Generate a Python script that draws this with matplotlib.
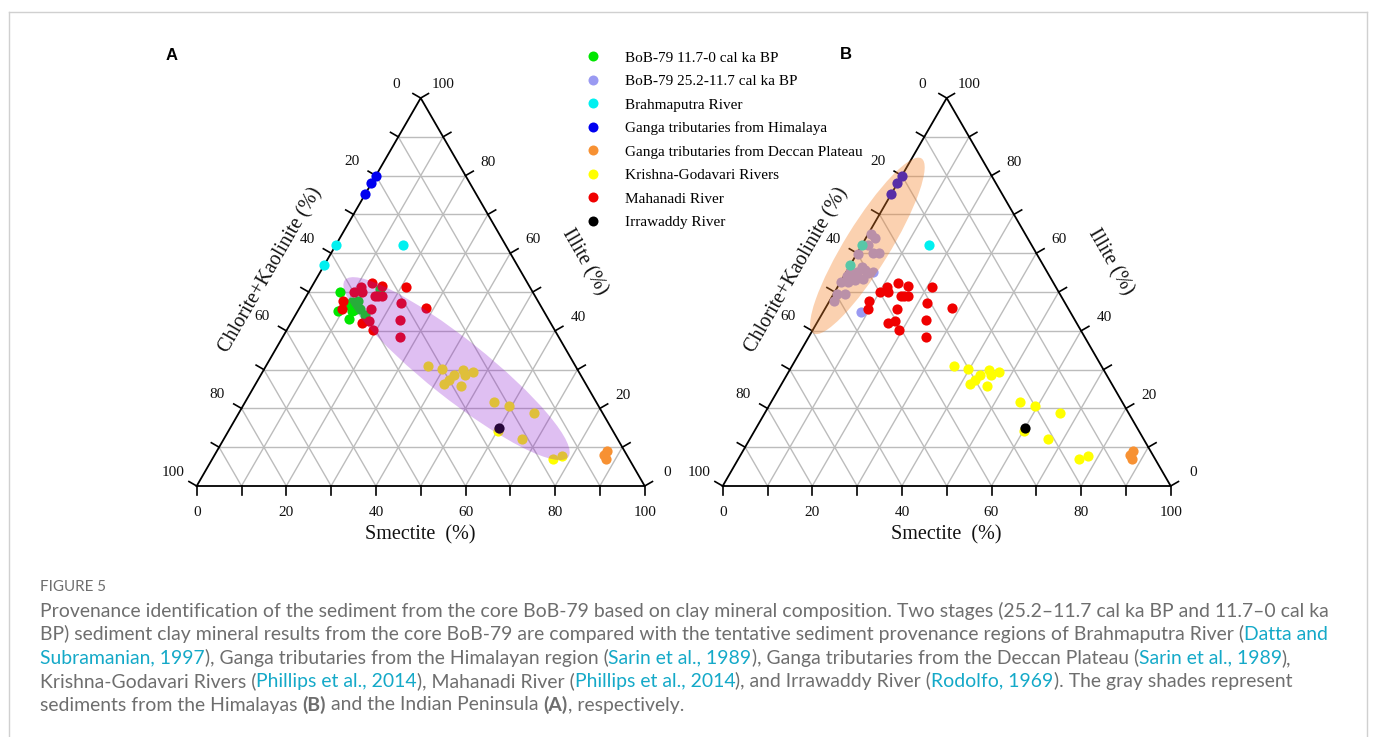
import numpy as np
import matplotlib
matplotlib.use("Agg")
import matplotlib.pyplot as plt
from matplotlib.patches import Ellipse
from matplotlib.lines import Line2D

# ---------------- data: (Smectite %, Illite %); Chlorite+Kaolinite = 100 - S - I
bob_holo_sm = [7, 9, 12.6, 12, 11, 12, 12.4, 13.7, 15.5, 15.6, 9.8]
bob_holo_il = [50, 45, 43, 45.2, 47.5, 47.8, 45.4, 45.5, 44, 50.7, 46.7]

bob_glac_sm = [0.5, 2, 1.5, 0.4, 3.5, 4.9, 2.8, 2.3, 3.9, 5.1, 0.9, 0.7, 3, 4.7,
               0.2, 1.7, 0.8, 2.6, 1, 6, 8.5]
bob_glac_il = [65, 64, 62, 59.8, 60, 60, 56.5, 55.2, 55.7, 54.8, 55.1, 54, 53.1, 53.4,
               52.5, 52.7, 49.4, 49.4, 47.8, 55.2, 44.8]

brahma_sm = [0, 0, 15]
brahma_il = [62, 57, 62]

ganga_him_sm = [0, 0, 0]
ganga_him_il = [80, 78, 75.3]

ganga_dec_sm = [87, 87, 88]
ganga_dec_il = [9, 7.9, 6.9]

kg_sm = [36.2, 39.6, 44.4, 47, 43, 45.6, 42.6, 42, 46, 55.4, 59.3, 65.8, 60.2, 66.6, 76, 77.7]
kg_il = [30.9, 30.1, 30, 29.5, 28.7, 28.5, 27.4, 26.3, 25.9, 21.7, 20.6, 18.8, 14.2, 12, 7, 7.8]

mahanadi_sm = [13, 15.7, 21.1, 10.9, 10.1, 11.8, 15.2, 16, 16.8, 8.9, 22.1, 9.6, 16.2,
               28.3, 15.9, 17.1, 19.3, 24, 26.1]
mahanadi_il = [52.2, 51.5, 51.3, 51.4, 49.9, 50, 49, 49, 49.1, 47.6, 47.2, 45.6, 45.5,
               45.9, 42.1, 42.5, 40.1, 42.9, 38.5]

irrawaddy_sm = [60]
irrawaddy_il = [15]

legend_labels = ["BoB-79 11.7-0 cal ka BP", "BoB-79 25.2-11.7 cal ka BP", "Brahmaputra River",
                 "Ganga tributaries from Himalaya", "Ganga tributaries from Deccan Plateau",
                 "Krishna-Godavari Rivers", "Mahanadi River", "Irrawaddy River"]
tick_values = [0, 20, 40, 60, 80, 100]

# ---------------- styles
C_GREEN, C_LAV, C_CYAN, C_BLUE = "#00e600", "#9a9af2", "#00f0f0", "#0000f0"
C_ORANGE, C_YELLOW, C_RED, C_BLACK = "#f79133", "#ffff00", "#f00000", "#000000"
legend_colors = [C_GREEN, C_LAV, C_CYAN, C_BLUE, C_ORANGE, C_YELLOW, C_RED, C_BLACK]
GRID = "#bcbcbc"
SERIF = ["Liberation Serif", "DejaVu Serif"]
SQ3 = np.sqrt(3) / 2

W_PX, H_PX, DPI = 1375, 737, 100
fig = plt.figure(figsize=(W_PX / DPI, H_PX / DPI), dpi=DPI)
fig.patch.set_facecolor("white")

SCALE = 4.48  # pixels per ternary unit


def to_xy(sm, il):
    sm = np.asarray(sm, float)
    il = np.asarray(il, float)
    return sm + il / 2.0, il * SQ3


def make_ax(left_px, tri_left_px, base_py=486, top_py=40, bot_py=560, width_px=560):
    ax = fig.add_axes([left_px / W_PX, 1 - bot_py / H_PX, width_px / W_PX, (bot_py - top_py) / H_PX])
    ax.set_xlim((left_px - tri_left_px) / SCALE, (left_px + width_px - tri_left_px) / SCALE)
    ax.set_ylim((base_py - bot_py) / SCALE, (base_py - top_py) / SCALE)
    ax.axis("off")
    return ax


def draw_frame(ax):
    for k in range(10, 100, 10):
        for (s0, i0, s1, i1) in [(0, k, 100 - k, k), (k, 0, k, 100 - k), (100 - k, 0, 0, 100 - k)]:
            x, y = to_xy([s0, s1], [i0, i1])
            ax.plot(x, y, color=GRID, lw=1.0, zorder=1, solid_capstyle="butt")
    x, y = to_xy([0, 100, 0, 0], [0, 0, 100, 0])
    ax.plot(x, y, color="black", lw=1.3, zorder=2, solid_joinstyle="miter")
    L = 2.0
    for k in range(0, 101, 10):
        bx, by = to_xy(k, 0)
        ax.plot([bx, bx], [by, by - L], color="black", lw=1.2, zorder=2)
        lx, ly = to_xy(0, 100 - k)
        ax.plot([lx, lx - L * 0.866], [ly, ly + L * 0.5], color="black", lw=1.2, zorder=2)
        rx, ry = to_xy(100 - k, k)
        ax.plot([rx, rx + L * 0.866], [ry, ry + L * 0.5], color="black", lw=1.2, zorder=2)
    tk = dict(fontsize=11, family=SERIF, ha="center", va="center", color="#111111")
    for k in tick_values:
        bx, by = to_xy(k, 0)
        ax.text(bx, by - 6.0, str(k), **tk)
        lx, ly = to_xy(0, 100 - k)
        ax.text(lx - 6.2 * 0.866, ly + 6.2 * 0.5, str(k), **tk)
        rx, ry = to_xy(100 - k, k)
        ax.text(rx + 5.9 * 0.866, ry + 5.9 * 0.5, str(k), **tk)
    tt = dict(fontsize=14.5, family=SERIF, ha="center", va="center", color="#111111",
              rotation_mode="anchor")
    ax.text(50, -10.8, "Smectite  (%)", **tt)
    mx, my = to_xy(0, 50)
    ax.text(mx - 9.8 * 0.866, my + 9.8 * 0.5, "Chlorite+Kaolinite (%)", rotation=60, **tt)
    mx, my = to_xy(50, 50)
    ax.text(mx + 13.4 * 0.866, my + 13.4 * 0.5, "Illite (%)", rotation=-60, **tt)


def scatter(ax, sm, il, color):
    x, y = to_xy(sm, il)
    ax.scatter(x, y, s=54, color=color, linewidths=0, zorder=3)


# ---------------- panel A
axA = make_ax(140, 196.7)
draw_frame(axA)
scatter(axA, bob_holo_sm, bob_holo_il, C_GREEN)
scatter(axA, brahma_sm, brahma_il, C_CYAN)
scatter(axA, ganga_him_sm, ganga_him_il, C_BLUE)
scatter(axA, ganga_dec_sm, ganga_dec_il, C_ORANGE)
scatter(axA, kg_sm, kg_il, C_YELLOW)
scatter(axA, mahanadi_sm, mahanadi_il, C_RED)
scatter(axA, irrawaddy_sm, irrawaddy_il, C_BLACK)
axA.add_patch(Ellipse((58.0, 26.2), 63.6, 13.2, angle=-38.4,
                      facecolor=(0.56, 0.10, 0.82), alpha=0.28, edgecolor="none", zorder=4))
axA.text(-5.7, 96.2, "A", fontsize=12, fontweight="bold", family=["Liberation Sans", "DejaVu Sans"],
         ha="center", va="center")

# ---------------- panel B
axB = make_ax(666, 722.7)
draw_frame(axB)
scatter(axB, bob_glac_sm, bob_glac_il, C_LAV)
scatter(axB, brahma_sm, brahma_il, C_CYAN)
scatter(axB, ganga_him_sm, ganga_him_il, C_BLUE)
scatter(axB, ganga_dec_sm, ganga_dec_il, C_ORANGE)
scatter(axB, kg_sm, kg_il, C_YELLOW)
scatter(axB, mahanadi_sm, mahanadi_il, C_RED)
scatter(axB, irrawaddy_sm, irrawaddy_il, C_BLACK)
axB.add_patch(Ellipse((32.3, 53.6), 45.9, 10.0, angle=58.3,
                      facecolor=(0.96, 0.50, 0.15), alpha=0.36, edgecolor="none", zorder=4))
axB.text(27.5, 96.4, "B", fontsize=12, fontweight="bold", family=["Liberation Sans", "DejaVu Sans"],
         ha="center", va="center")

# ---------------- legend
handles = [Line2D([], [], ls="none", marker="o", markersize=7.2, markerfacecolor=c,
                  markeredgewidth=0) for c in legend_colors]
fig.legend(handles, legend_labels, loc="upper left", bbox_to_anchor=(586.9 / W_PX, 1 - 51.0 / H_PX),
           frameon=False, prop=dict(family=SERIF, size=11), handlelength=0.8, handletextpad=1.69,
           labelspacing=0.64, borderpad=0, borderaxespad=0)

# ---------------- frame
for (x0, y0, x1, y1) in [(8.5, 737, 8.5, 12), (8.5, 12, 1366.5, 12), (1366.5, 12, 1366.5, 737)]:
    fig.add_artist(Line2D([x0 / W_PX, x1 / W_PX], [1 - y0 / H_PX, 1 - y1 / H_PX],
                          transform=fig.transFigure, color="#d0d0d0", lw=1.0))

# ---------------- caption
CAP_FONT = ["Lato", "Open Sans", "DejaVu Sans"]
GRAY, LINK = "#6e6e6e", "#14a9c8"
cap_lines = [
    [("Provenance identification of the sediment from the core BoB-79 based on clay mineral composition. "
      "Two stages (25.2\u201311.7 cal ka BP and 11.7\u20130 cal ka", "n")],
    [("BP) sediment clay mineral results from the core BoB-79 are compared with the tentative sediment "
      "provenance regions of Brahmaputra River (", "n"), ("Datta and", "l")],
    [("Subramanian, 1997", "l"), ("), Ganga tributaries from the Himalayan region (", "n"),
     ("Sarin et al., 1989", "l"), ("), Ganga tributaries from the Deccan Plateau (", "n"),
     ("Sarin et al., 1989", "l"), ("),", "n")],
    [("Krishna-Godavari Rivers (", "n"), ("Phillips et al., 2014", "l"), ("), Mahanadi River (", "n"),
     ("Phillips et al., 2014", "l"), ("), and Irrawaddy River (", "n"), ("Rodolfo, 1969", "l"),
     ("). The gray shades represent", "n")],
    [("sediments from the Himalayas ", "n"), ("(B)", "b"), (" and the Indian Peninsula ", "n"),
     ("(A)", "b"), (", respectively.", "n")],
]
cap_y = [611, 634, 658, 681, 705]

renderer = fig.canvas.get_renderer()


def text_width(s, size, weight):
    t = fig.text(0, 0, s + "|", fontsize=size, family=CAP_FONT, fontweight=weight)
    t2 = fig.text(0, 0, "|", fontsize=size, family=CAP_FONT, fontweight=weight)
    w = t.get_window_extent(renderer).width - t2.get_window_extent(renderer).width
    t.remove()
    t2.remove()
    return w


base = 12.0
w1 = text_width(cap_lines[0][0][0], base, "normal")
cap_size = base * (1325 - 40) / w1

fig.text(40 / W_PX, 1 - 587 / H_PX, "FIGURE 5", fontsize=cap_size * 0.78, family=CAP_FONT,
         color=GRAY, va="center", ha="left")
for segs, yc in zip(cap_lines, cap_y):
    x = 40.0
    for s, kind in segs:
        weight = "bold" if kind == "b" else "normal"
        color = LINK if kind == "l" else GRAY
        fig.text(x / W_PX, 1 - yc / H_PX, s, fontsize=cap_size, family=CAP_FONT, fontweight=weight,
                 color=color, va="center", ha="left")
        x += text_width(s, cap_size, weight)

fig.savefig("out.png", dpi=DPI, facecolor="white")
